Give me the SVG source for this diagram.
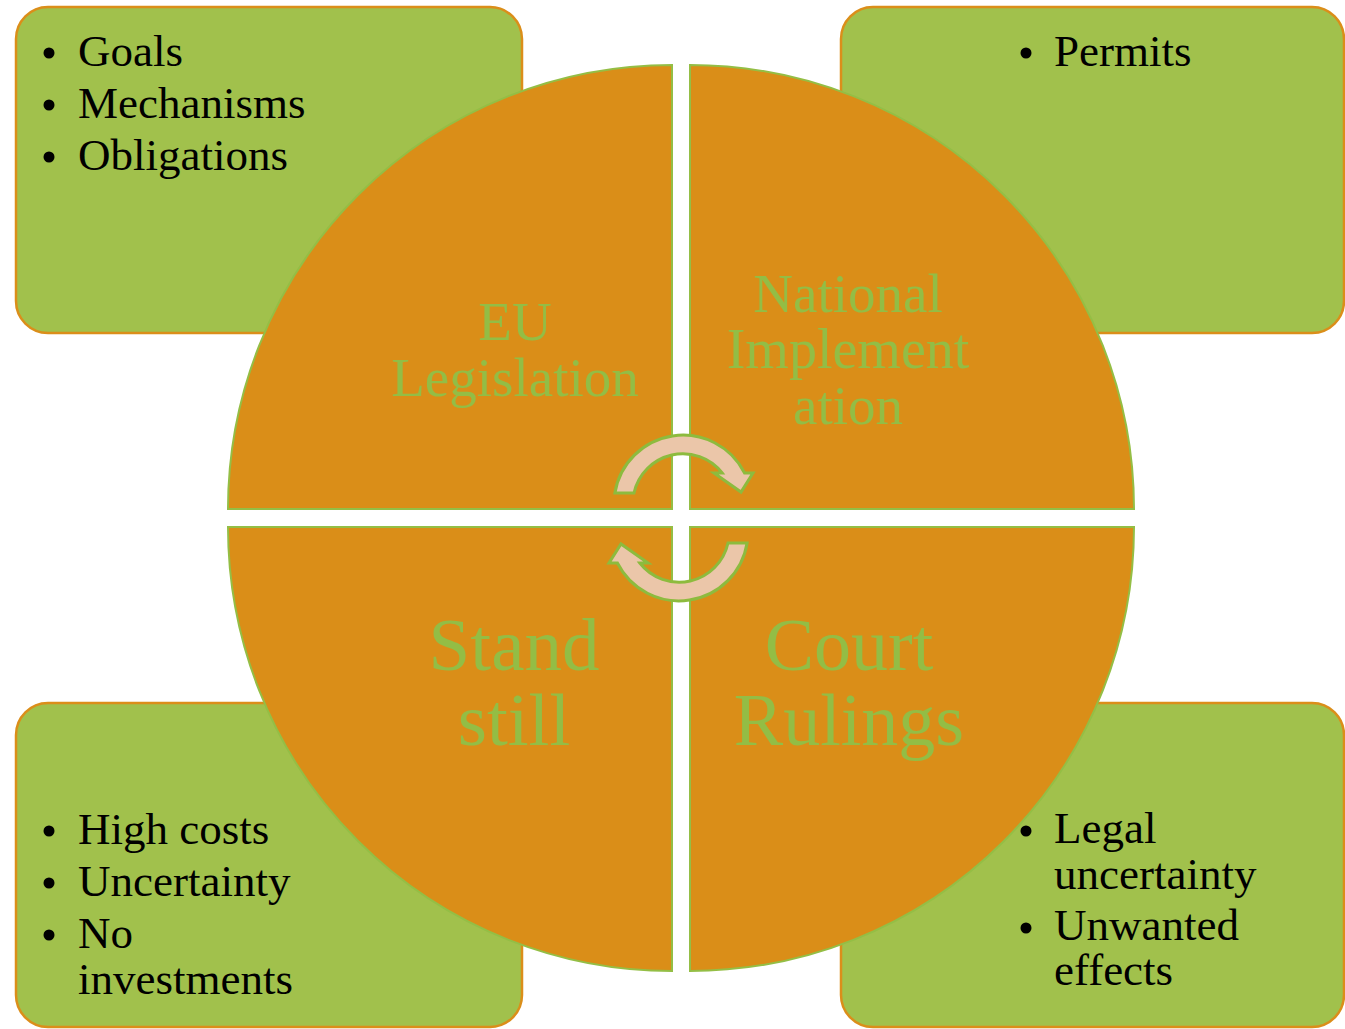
<svg xmlns="http://www.w3.org/2000/svg" width="1345" height="1029" viewBox="0 0 1345 1029">
<style>
.box{fill:#A1C14C;stroke:#DB8E1A;stroke-width:2.5}
.q{fill:#DA8E18;stroke:#94BE45;stroke-width:2}
.lbl{font-family:"Liberation Serif",serif;fill:#93BD45;text-anchor:middle}
.t{font-family:"Liberation Serif",serif;font-size:45px;fill:#000}
.arr{fill:#EBC6A9;stroke:#8DBB3E;stroke-width:3;stroke-linejoin:miter}
</style>
<rect width="1345" height="1029" fill="#fff"/>
<g id="box-tl"><rect class="box" x="16" y="7" width="506" height="326" rx="32"/>
<circle cx="49" cy="53" r="5.5"/><circle cx="49" cy="105" r="5.5"/><circle cx="49" cy="157" r="5.5"/>
<text class="t" x="78" y="66">Goals</text><text class="t" x="78" y="118">Mechanisms</text><text class="t" x="78" y="170">Obligations</text></g>
<g id="box-tr"><rect class="box" x="841" y="7" width="503" height="326" rx="32"/>
<circle cx="1026" cy="53" r="5.5"/><text class="t" x="1054" y="66">Permits</text></g>
<g id="box-bl"><rect class="box" x="16" y="703" width="506" height="324" rx="32"/>
<circle cx="49" cy="831" r="5.5"/><circle cx="49" cy="883" r="5.5"/><circle cx="49" cy="935" r="5.5"/>
<text class="t" x="78" y="844">High costs</text><text class="t" x="78" y="896">Uncertainty</text><text class="t" x="78" y="948">No</text><text class="t" x="78" y="994">investments</text></g>
<g id="box-br"><rect class="box" x="841" y="703" width="503" height="324" rx="32"/>
<circle cx="1026" cy="831" r="5.5"/><circle cx="1026" cy="928" r="5.5"/>
<text class="t" x="1054" y="843">Legal</text><text class="t" x="1054" y="889">uncertainty</text><text class="t" x="1054" y="940">Unwanted</text><text class="t" x="1054" y="985">effects</text></g>
<g id="q-eu"><path class="q" d="M672,509 L228,509 A444,444 0 0 1 672,65 Z"/>
<text class="lbl" font-size="55" x="515" y="340">EU</text><text class="lbl" font-size="55" x="515" y="396">Legislation</text></g>
<g id="q-nat"><path class="q" d="M690,509 L690,65 A444,444 0 0 1 1134,509 Z"/>
<text class="lbl" font-size="55" x="848" y="312">National</text><text class="lbl" font-size="56" x="848" y="368">Implement</text><text class="lbl" font-size="55" x="848" y="424">ation</text></g>
<g id="q-court"><path class="q" d="M690,527 L1134,527 A444,444 0 0 1 690,971 Z"/>
<text class="lbl" font-size="74" x="849" y="670">Court</text><text class="lbl" font-size="74" x="849" y="745">Rulings</text></g>
<g id="q-stand"><path class="q" d="M672,527 L672,971 A444,444 0 0 1 228,527 Z"/>
<text class="lbl" font-size="75" x="514" y="670">Stand</text><text class="lbl" font-size="75" x="514" y="745">still</text></g>
<g id="connectors">
<path id="arrow-top" class="arr" d="M614.9,493 A69,69 0 0 1 744.6,473 L753,473 L741,492 L714,473 L722.2,473 A50,50 0 0 0 634,493 Z"/>
<path id="arrow-bottom" class="arr" transform="rotate(180 681 518)" d="M614.9,493 A69,69 0 0 1 744.6,473 L753,473 L741,492 L714,473 L722.2,473 A50,50 0 0 0 634,493 Z"/>
</g>
</svg>
